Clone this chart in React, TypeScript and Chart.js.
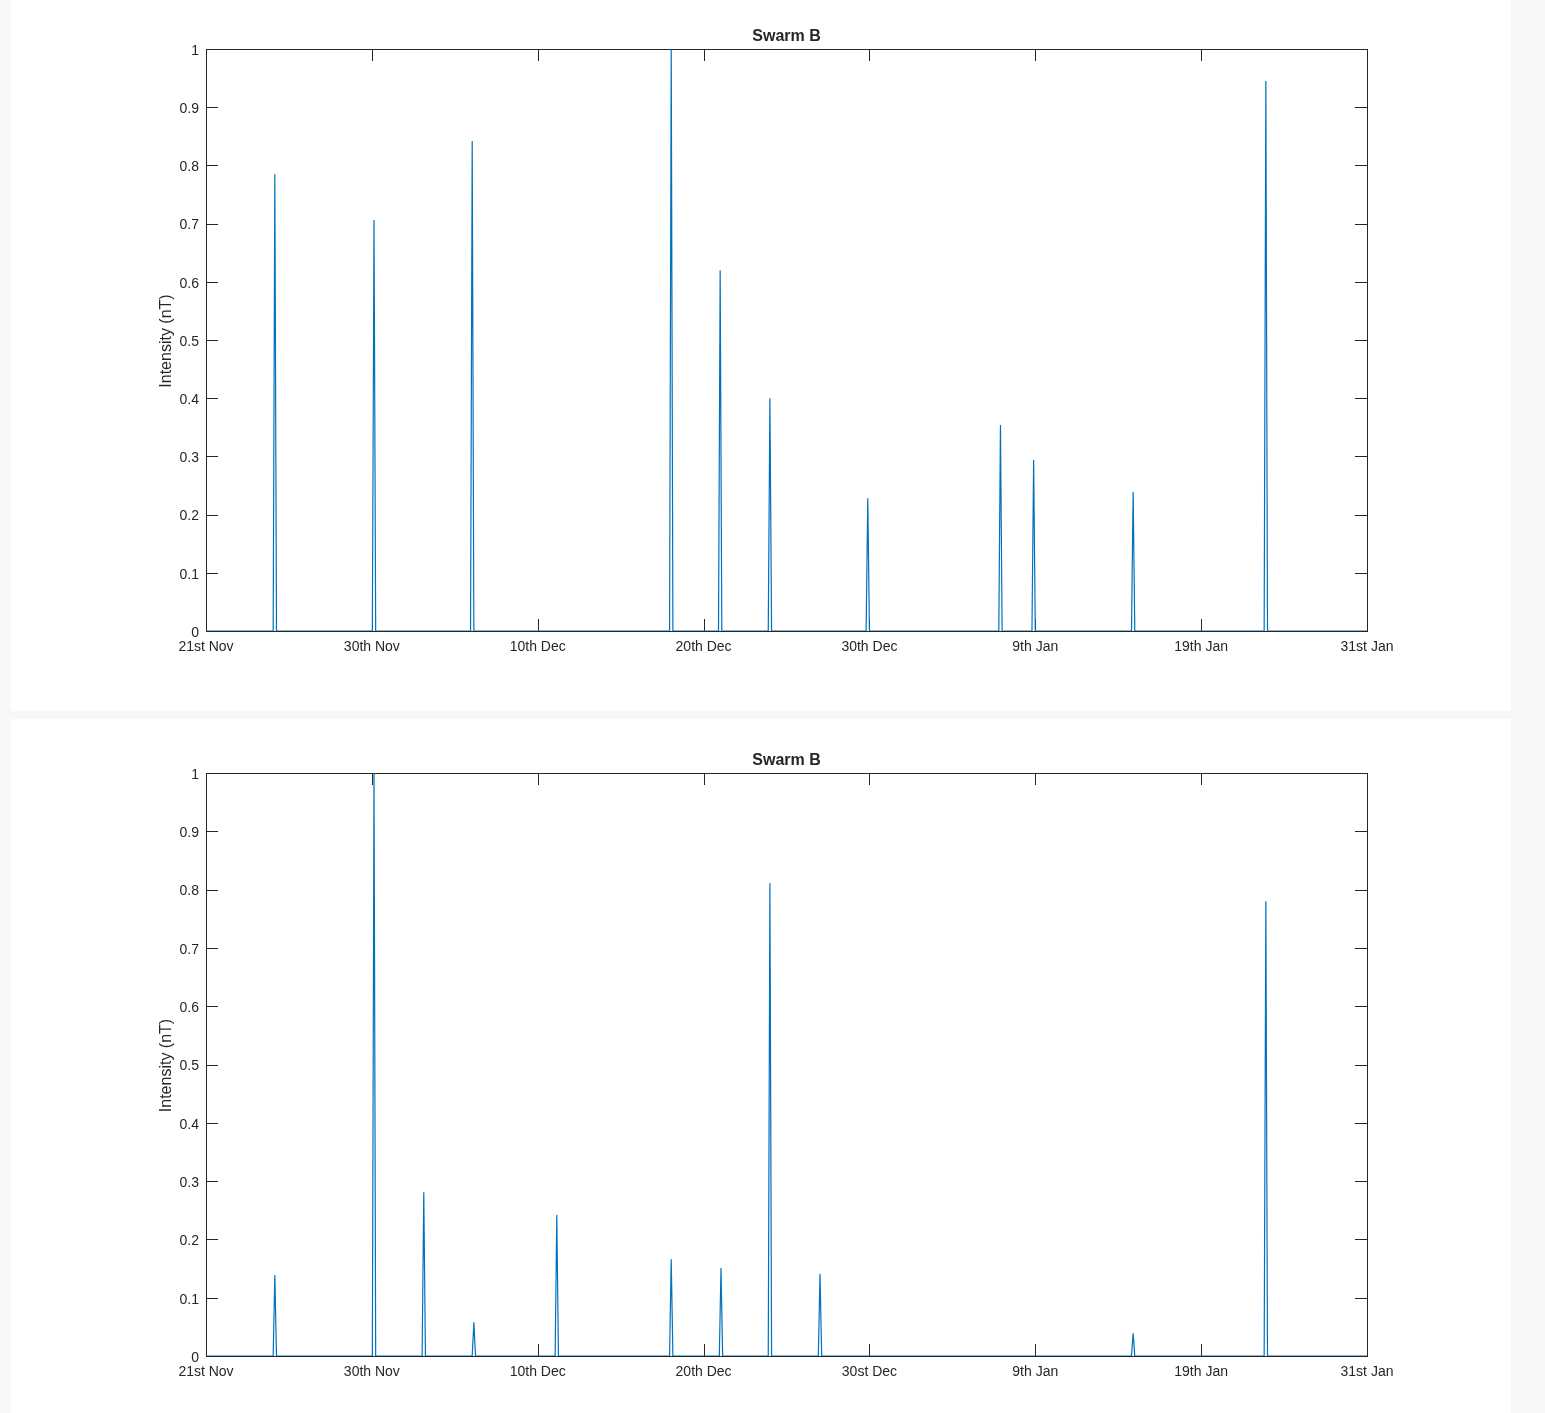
import React, { useEffect, useRef } from 'react';
import { Chart, registerables } from 'chart.js';

Chart.register(...registerables);

// ---------- data ----------
const chartTitle = 'Swarm B';
const yAxisTitle = 'Intensity (nT)';
const xTickLabelsTop = ['21st Nov', '30th Nov', '10th Dec', '20th Dec', '30th Dec', '9th Jan', '19th Jan', '31st Jan'];
const xTickLabelsBottom = ['21st Nov', '30th Nov', '10th Dec', '20th Dec', '30st Dec', '9th Jan', '19th Jan', '31st Jan'];
const yTickLabels = ['0', '0.1', '0.2', '0.3', '0.4', '0.5', '0.6', '0.7', '0.8', '0.9', '1'];

const topSpikeDays = [4.15, 10.13, 16.05, 28.05, 31.0, 34.0, 39.9, 47.9, 49.9, 55.9, 63.9];
const topSpikeValues = [0.785, 0.706, 0.842, 1.0, 0.62, 0.4, 0.228, 0.354, 0.294, 0.239, 0.945];

const bottomSpikeDays = [4.15, 10.13, 13.13, 16.15, 21.15, 28.05, 31.05, 34.0, 37.02, 55.9, 63.9];
const bottomSpikeValues = [0.139, 1.0, 0.281, 0.058, 0.242, 0.166, 0.151, 0.811, 0.141, 0.039, 0.78];

const X_MIN = 0;
const X_MAX = 70;
const X_STEP = 10;
const Y_MIN = 0;
const Y_MAX = 1;
const Y_STEP = 0.1;
const SPIKE_HALF_WIDTH = 0.1;

// ---------- styles ----------
const FONT = "'Liberation Sans', Arial, Helvetica, sans-serif";
const TEXT_COLOR = '#262626';
const AXIS_COLOR = '#262626';
const LINE_COLOR = '#0072BD';
const TICK_LEN = 12;

const PANEL_WIDTH = 1500;
const PLOT_LEFT = 195;
const PLOT_RIGHT = 1356;

function buildSeries(days: number[], values: number[]) {
  const pts: { x: number; y: number }[] = [{ x: X_MIN, y: 0 }];
  days.forEach((d, i) => {
    pts.push({ x: d - SPIKE_HALF_WIDTH, y: 0 });
    pts.push({ x: d, y: values[i] });
    pts.push({ x: d + SPIKE_HALF_WIDTH, y: 0 });
  });
  pts.push({ x: X_MAX, y: 0 });
  return pts;
}

type PanelProps = {
  top: number;
  height: number;
  plotTop: number;
  plotBottom: number;
  titleY: number;
  xLabels: string[];
  days: number[];
  values: number[];
};

function makeFramePlugin(titleY: number) {
  return {
    id: 'matlabFrame',
    beforeDatasetsDraw(chart: any) {
      const { ctx, chartArea: a, scales } = chart;
      const xs = scales.x;
      const ys = scales.y;
      ctx.save();
      ctx.strokeStyle = AXIS_COLOR;
      ctx.lineWidth = 1;
      ctx.beginPath();
      xs.ticks.forEach((t: any) => {
        const px = Math.round(xs.getPixelForValue(t.value)) + 0.5;
        ctx.moveTo(px, a.bottom);
        ctx.lineTo(px, a.bottom - TICK_LEN);
        ctx.moveTo(px, a.top);
        ctx.lineTo(px, a.top + TICK_LEN);
      });
      ys.ticks.forEach((t: any) => {
        const py = Math.round(ys.getPixelForValue(t.value)) + 0.5;
        ctx.moveTo(a.left, py);
        ctx.lineTo(a.left + TICK_LEN, py);
        ctx.moveTo(a.right, py);
        ctx.lineTo(a.right - TICK_LEN, py);
      });
      ctx.stroke();
      ctx.strokeRect(a.left + 0.5, a.top + 0.5, a.right - a.left, a.bottom - a.top);
      ctx.restore();
    },
    afterDraw(chart: any) {
      const { ctx, chartArea: a } = chart;
      ctx.save();
      ctx.fillStyle = TEXT_COLOR;
      ctx.textAlign = 'center';
      ctx.textBaseline = 'middle';
      ctx.font = `bold 16px ${FONT}`;
      ctx.fillText(chartTitle, (a.left + a.right) / 2, titleY);
      ctx.font = `16px ${FONT}`;
      ctx.translate(156, (a.top + a.bottom) / 2 + 1);
      ctx.rotate(-Math.PI / 2);
      ctx.fillText(yAxisTitle, 0, 0);
      ctx.restore();
    },
  };
}

function Panel({ top, height, plotTop, plotBottom, titleY, xLabels, days, values }: PanelProps) {
  const ref = useRef<HTMLCanvasElement | null>(null);

  useEffect(() => {
    if (!ref.current) return;
    const chart = new Chart(ref.current, {
      type: 'line',
      data: {
        datasets: [
          {
            data: buildSeries(days, values),
            borderColor: LINE_COLOR,
            borderWidth: 1.2,
            pointRadius: 0,
            tension: 0,
            fill: false,
          },
        ],
      },
      options: {
        responsive: false,
        animation: false,
        devicePixelRatio: 1,
        layout: { padding: { top: plotTop, right: PANEL_WIDTH - PLOT_RIGHT, bottom: 0, left: 0 } },
        plugins: {
          legend: { display: false },
          tooltip: { enabled: false },
          title: { display: false },
        },
        scales: {
          x: {
            type: 'linear',
            min: X_MIN,
            max: X_MAX,
            grid: { display: false, drawTicks: false },
            border: { display: false },
            ticks: {
              stepSize: X_STEP,
              autoSkip: false,
              maxRotation: 0,
              minRotation: 0,
              padding: 8,
              color: TEXT_COLOR,
              font: { family: FONT, size: 14 },
              callback: (v: any) => xLabels[Math.round(Number(v) / X_STEP)] ?? '',
            },
            afterFit: (s: any) => {
              s.height = height - plotBottom;
            },
          },
          y: {
            type: 'linear',
            min: Y_MIN,
            max: Y_MAX,
            grid: { display: false, drawTicks: false },
            border: { display: false },
            ticks: {
              stepSize: Y_STEP,
              autoSkip: false,
              padding: 7,
              labelOffset: 2,
              color: TEXT_COLOR,
              font: { family: FONT, size: 14 },
              callback: (v: any) => yTickLabels[Math.round(Number(v) / Y_STEP)] ?? '',
            },
            afterFit: (s: any) => {
              s.width = PLOT_LEFT;
            },
          },
        },
      },
      plugins: [makeFramePlugin(titleY)],
    } as any);
    return () => chart.destroy();
  }, []);

  return (
    <div
      style={{
        position: 'absolute',
        left: 11,
        top,
        width: PANEL_WIDTH,
        height,
        background: '#ffffff',
      }}
    >
      <canvas ref={ref} width={PANEL_WIDTH} height={height} style={{ display: 'block' }} />
    </div>
  );
}

export default function App() {
  useEffect(() => {
    document.body.style.margin = '0';
    document.body.style.background = '#f7f7f7';
  }, []);
  return (
    <div style={{ position: 'relative', width: 1545, height: 1413, background: '#f7f7f7', overflow: 'hidden' }}>
      <Panel
        top={0}
        height={711}
        plotTop={49}
        plotBottom={631}
        titleY={37}
        xLabels={xTickLabelsTop}
        days={topSpikeDays}
        values={topSpikeValues}
      />
      <Panel
        top={719}
        height={694}
        plotTop={54}
        plotBottom={637}
        titleY={42}
        xLabels={xTickLabelsBottom}
        days={bottomSpikeDays}
        values={bottomSpikeValues}
      />
    </div>
  );
}
